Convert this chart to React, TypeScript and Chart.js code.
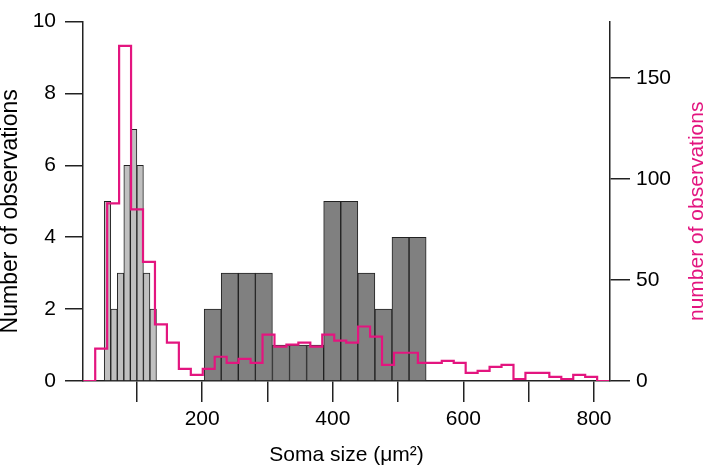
import React, { useEffect, useRef } from 'react';
import { Chart, registerables } from 'chart.js';

Chart.register(...registerables);

// Light grey histogram (left axis), bin centres in µm²
const lightCenters = [55, 65, 75, 85, 95, 105, 115, 125];
const lightCounts = [5, 2, 3, 6, 7, 6, 3, 2];

// Dark grey histogram (left axis), bin centres in µm²
const darkCenters = [216.1, 242.2, 268.4, 294.5, 320.7, 346.8, 373.0, 399.1, 425.3, 451.4, 477.6, 503.7, 529.9];
const darkCounts = [2, 3, 3, 3, 1, 1, 1, 5, 5, 3, 2, 4, 4];

// Magenta step histogram (right axis), bin left edges + final right edge
const pinkEdges = [17.9, 36.2, 54.5, 72.8, 91.1, 109.4, 127.7, 146.0, 164.3, 182.6, 200.9, 219.2, 237.5, 255.8, 274.1, 292.4, 310.7, 329.0, 347.3, 365.6, 383.9, 402.2, 420.5, 438.8, 457.1, 475.4, 493.7, 512.0, 530.3, 548.6, 566.9, 585.2, 603.5, 621.8, 640.1, 658.4, 676.7, 695.0, 713.3, 731.6, 749.9, 768.2, 786.5, 804.8, 823.1];
const pinkCounts = [0, 16, 88, 166, 85, 59, 28, 19, 6, 3, 6, 12, 9, 11, 9, 23, 17, 18, 19, 17, 23, 20, 19, 27, 22, 8, 14, 14, 9, 9, 10, 9, 4, 5, 7, 8, 1, 4, 4, 2, 1, 3, 2, 0];

const xTicks = [100, 200, 300, 400, 500, 600, 700, 800];
const xTickLabels = [200, 400, 600, 800];
const leftTicks = [0, 2, 4, 6, 8, 10];
const rightTicks = [0, 50, 100, 150];

const leftTitle = 'Number of observations';
const rightTitle = 'number of observations';
const xTitle = 'Soma size (μm²)';

const X_MIN = 17.5;
const X_MAX = 824.5;
const LEFT_MAX = 10;
const RIGHT_MAX = 178;

const PINK = '#e3157f';
const AXIS = '#222222';
const FONT = "'Liberation Sans', Arial, Helvetica, sans-serif";

// Both vertical axis titles read bottom-to-top, as in the reference.
const sideTitlesPlugin = {
  id: 'sideTitles',
  afterDraw(chart: any) {
    const ctx = chart.ctx;
    const draw = (text: string, x: number, y: number, size: number, color: string) => {
      ctx.save();
      ctx.font = `${size}px ${FONT}`;
      ctx.fillStyle = color;
      ctx.textAlign = 'center';
      ctx.textBaseline = 'middle';
      ctx.translate(x, y);
      ctx.rotate(-Math.PI / 2);
      ctx.fillText(text, 0, 0);
      ctx.restore();
    };
    const yl = chart.scales.y;
    const yr = chart.scales.y2;
    if (yl) draw(leftTitle, yl.left + 11, (yl.top + yl.bottom) / 2 + 10, 23, '#000');
    if (yr) draw(rightTitle, yr.right - 12, (yr.top + yr.bottom) / 2 + 10, 21, PINK);
  },
};

export default function App() {
  const ref = useRef<HTMLCanvasElement | null>(null);

  useEffect(() => {
    if (!ref.current) return;
    const lineData = pinkEdges.map((x, i) => ({ x, y: pinkCounts[Math.min(i, pinkCounts.length - 1)] }));
    const chart = new Chart(ref.current, {
      type: 'bar',
      data: {
        datasets: [
          {
            type: 'line',
            label: rightTitle,
            data: lineData,
            xAxisID: 'x',
            yAxisID: 'y2',
            stepped: 'before',
            borderColor: PINK,
            borderWidth: 2.2,
            pointRadius: 0,
            fill: false,
            order: 0,
          } as any,
          {
            type: 'bar',
            label: 'small',
            data: lightCenters.map((x, i) => ({ x, y: lightCounts[i] })),
            xAxisID: 'x',
            yAxisID: 'y',
            backgroundColor: '#c0c0c0',
            borderColor: AXIS,
            borderWidth: 1,
            barPercentage: 1,
            categoryPercentage: 1,
            grouped: false,
            order: 1,
          },
          {
            type: 'bar',
            label: 'large',
            data: darkCenters.map((x, i) => ({ x, y: darkCounts[i] })),
            xAxisID: 'x2',
            yAxisID: 'y',
            backgroundColor: '#808080',
            borderColor: AXIS,
            borderWidth: 1,
            barPercentage: 1,
            categoryPercentage: 1,
            grouped: false,
            order: 1,
          },
        ],
      },
      options: {
        responsive: false,
        animation: false,
        layout: { padding: { top: 10, left: 0, right: 0, bottom: 0 } },
        plugins: { legend: { display: false }, tooltip: { enabled: false } },
        scales: {
          x: {
            type: 'linear',
            position: 'bottom',
            offset: false,
            min: X_MIN,
            max: X_MAX,
            afterBuildTicks: (s: any) => { s.ticks = xTicks.map((v) => ({ value: v })); },
            afterFit: (s: any) => { s.height = 87; },
            ticks: {
              color: '#000',
              font: { family: FONT, size: 21 },
              padding: 5,
              maxRotation: 0,
              autoSkip: false,
              callback: (v: any) => (xTickLabels.includes(Number(v)) ? String(v) : ''),
            },
            grid: { offset: false, drawOnChartArea: false, drawTicks: true, tickLength: 21, color: AXIS, lineWidth: 1.5 },
            border: { display: true, color: AXIS, width: 1.5 },
            title: {
              display: true,
              text: xTitle,
              color: '#000',
              font: { family: FONT, size: 21, lineHeight: 1.2 },
              padding: { top: 0, bottom: 0 },
            },
          },
          x2: {
            type: 'linear',
            display: false,
            offset: false,
            min: X_MIN,
            max: X_MAX,
            ticks: { stepSize: 200 },
            grid: { offset: false },
          },
          y: {
            type: 'linear',
            position: 'left',
            min: 0,
            max: LEFT_MAX,
            afterBuildTicks: (s: any) => { s.ticks = leftTicks.map((v) => ({ value: v })); },
            afterFit: (s: any) => { s.width = 83; },
            ticks: { color: '#000', font: { family: FONT, size: 21 }, padding: 9 },
            grid: { drawOnChartArea: false, drawTicks: true, tickLength: 18, color: AXIS, lineWidth: 1.5 },
            border: { display: true, color: AXIS, width: 1.5 },
          },
          y2: {
            type: 'linear',
            position: 'right',
            min: 0,
            max: RIGHT_MAX,
            afterBuildTicks: (s: any) => { s.ticks = rightTicks.map((v) => ({ value: v })); },
            afterFit: (s: any) => { s.width = 99; },
            ticks: { color: '#000', font: { family: FONT, size: 21 }, padding: 6 },
            grid: { drawOnChartArea: false, drawTicks: true, tickLength: 20, color: AXIS, lineWidth: 1.5 },
            border: { display: true, color: AXIS, width: 1.5 },
          },
        },
      },
      plugins: [sideTitlesPlugin],
    });
    return () => chart.destroy();
  }, []);

  return (
    <div style={{ position: 'fixed', left: 0, top: 0, width: 709, height: 468, background: '#fff' }}>
      <canvas ref={ref} width={709} height={468} style={{ display: 'block' }} />
    </div>
  );
}
